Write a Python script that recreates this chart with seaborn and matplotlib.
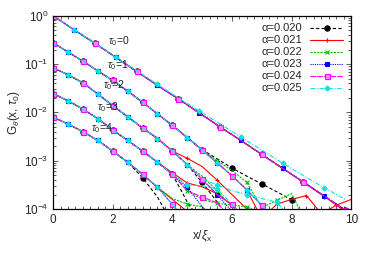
import matplotlib
matplotlib.use('Agg')
import matplotlib.pyplot as plt
from matplotlib.lines import Line2D
from matplotlib.ticker import AutoMinorLocator, LogLocator, NullFormatter
import numpy as np
import pandas as pd
import seaborn as sns

# alpha values and styles (gnuplot-ish)
alphas = ['0.020', '0.021', '0.022', '0.023', '0.024', '0.025']
taus = [0, 1, 2, 3, 4]

# x / xi_x grids for each tau0 curve
x_t0 = [0.0, 0.7, 1.4, 2.1, 2.8, 3.5, 4.2, 4.9, 5.6, 6.3, 7.0, 7.7, 8.4, 9.1, 9.8]
x_t1 = [0.0, 0.5, 1.0, 1.5, 2.0, 2.5, 3.0, 3.5, 4.0, 4.5, 5.0,
        5.5, 6.0, 6.5, 7.0, 7.5, 8.0, 8.5, 9.0, 9.5, 10.0]
x_t2 = [0.0, 0.5, 1.0, 1.5, 2.0, 2.5, 3.0, 3.5, 4.0, 4.5, 5.0, 5.5, 6.0, 6.5, 7.0, 7.5, 8.0]
x_t3 = [0.0, 0.5, 1.0, 1.5, 2.0, 2.5, 3.0, 3.5, 4.0, 4.5, 5.0, 5.5, 6.0, 6.5, 7.0, 7.5]
x_t4 = [0.0, 0.5, 1.0, 1.5, 2.0, 2.5, 3.0, 3.5, 4.0, 4.5, 5.0, 5.5, 6.0]

# log10 G(x, tau0), common part of the collapsed curves
main0 = [0.00, -0.29, -0.57, -0.86, -1.15, -1.44, -1.72, -2.01, -2.30, -2.58, -2.87, -3.16, -3.44, -3.73, -4.02]
main1 = [-0.56, -0.75, -0.94, -1.14, -1.34, -1.56, -1.79, -2.03, -2.27, -2.52, -2.78, -3.04, -3.31, -3.60, -3.92, -4.25]
main2 = [-1.08, -1.22, -1.39, -1.62, -1.86, -2.09, -2.32, -2.54, -2.80, -3.08, -3.38, -3.70, -4.05, -4.40]
main3 = [-1.61, -1.76, -1.93, -2.13, -2.36, -2.58, -2.80, -3.03, -3.28, -3.55, -3.85, -4.20]
main4 = [-2.10, -2.24, -2.40, -2.58, -2.80, -3.03, -3.28, -3.55, -3.90, -4.30]

# alpha = 0.020
g020_t0 = main0
g020_t1 = main1[:10] + [-2.77, -2.96, -3.15, -3.32, -3.48, -3.64, -3.81]
g020_t2 = main2[:10] + [-3.45, -3.85, -4.30]
g020_t3 = main3[:9] + [-3.85, -4.30]
g020_t4 = main4[:6] + [-3.35, -3.75, -4.30]
# alpha = 0.021
g021_t0 = main0[:11] + [-3.15, -3.45, -3.74, -4.05]
g021_t1 = main1[:14] + [-4.20, -3.90, -3.80, -3.72, -4.10, -3.92, -3.80]
g021_t2 = main2[:9] + [-2.95, -3.12, -3.40, -3.70, -4.00, -4.30]
g021_t3 = main3[:8] + [-3.25, -3.46, -3.54, -3.68, -3.92, -4.20]
g021_t4 = main4[:8] + [-3.80, -4.05, -4.30]
# alpha = 0.022
g022_t0 = main0
g022_t1 = main1[:11] + [-3.00, -3.20, -3.45, -3.97, -3.82, -3.68, -4.30]
g022_t2 = main2[:10] + [-3.32, -3.62, -3.95, -4.30]
g022_t3 = main3[:9] + [-3.62, -3.80, -3.88, -3.92, -3.95, -4.10, -4.30]
g022_t4 = main4[:7] + [-3.55, -3.78, -3.90, -3.95, -4.30]
# alpha = 0.023
g023_t0 = main0
g023_t1 = main1
g023_t2 = main2
g023_t3 = main3[:10] + [-3.95, -4.30]
g023_t4 = main4
# alpha = 0.024
g024_t0 = main0
g024_t1 = main1
g024_t2 = main2[:12] + [-3.90, -4.30]
g024_t3 = main3[:9] + [-3.62, -3.75, -3.87, -4.20]
g024_t4 = main4
# alpha = 0.025
g025_t0 = [0.00, -0.29, -0.57, -0.86, -1.14, -1.42, -1.70, -1.97, -2.24, -2.51, -2.78, -3.05, -3.31, -3.56, -3.80]
g025_t1 = main1
g025_t2 = main2[:11] + [-3.50, -3.62, -3.70, -3.78, -3.86, -4.20]
g025_t3 = main3[:9] + [-3.50, -3.52, -3.58, -3.90, -4.25]
g025_t4 = main4

grids = [x_t0, x_t1, x_t2, x_t3, x_t4]
series = {
    '0.020': [g020_t0, g020_t1, g020_t2, g020_t3, g020_t4],
    '0.021': [g021_t0, g021_t1, g021_t2, g021_t3, g021_t4],
    '0.022': [g022_t0, g022_t1, g022_t2, g022_t3, g022_t4],
    '0.023': [g023_t0, g023_t1, g023_t2, g023_t3, g023_t4],
    '0.024': [g024_t0, g024_t1, g024_t2, g024_t3, g024_t4],
    '0.025': [g025_t0, g025_t1, g025_t2, g025_t3, g025_t4],
}

rows = []
for a in alphas:
    for t, (xs, lg) in enumerate(zip(grids, series[a])):
        for xv, lv in zip(xs, lg):
            rows.append({'alpha': a, 'tau': t, 'x': xv, 'G': 10 ** lv})
df = pd.DataFrame(rows)

styles = {
    '0.020': dict(color='black', linestyle=(0, (3, 2)), marker='o', ms=3.8, mfc='black', mec='black', me=(0, 2)),
    '0.021': dict(color='#ff0000', linestyle='-', marker='+', ms=3.5, mfc='#ff0000', mec='#ff0000', me=(1, 2)),
    '0.022': dict(color='#00c000', linestyle=(0, (2, 1)), marker='x', ms=3.0, mfc='#00c000', mec='#00c000', me=(1, 2)),
    '0.023': dict(color='#0000ff', linestyle=(0, (1, 1)), marker='s', ms=2.6, mfc='#0000ff', mec='#0000ff', me=(1, 2)),
    '0.024': dict(color='#ff00ff', linestyle=(0, (5, 1)), marker='s', ms=3.6, mfc='#ff88ff', mec='#ff00ff', me=(0, 2)),
    '0.025': dict(color='#00e5e5', linestyle=(0, (4, 1.5, 1, 1.5)), marker='D', ms=2.6, mfc='#00e5e5', mec='#00e5e5', me=(1, 2)),
}

sns.set_style('ticks')
plt.rcParams['font.family'] = ['Liberation Sans', 'DejaVu Sans']
plt.rcParams['mathtext.fontset'] = 'custom'
plt.rcParams['mathtext.rm'] = 'Liberation Sans'
plt.rcParams['mathtext.it'] = 'Liberation Sans:italic'

fig, ax = plt.subplots(figsize=(3.74, 2.62), dpi=100)
fig.subplots_adjust(left=0.142, right=0.939, top=0.94, bottom=0.202)

handles = []
for a in alphas:
    st = styles[a]
    for t in taus:
        sub = df[(df['alpha'] == a) & (df['tau'] == t)]
        sns.lineplot(data=sub, x='x', y='G', ax=ax, estimator=None, sort=False,
                     color=st['color'], linestyle=st['linestyle'], linewidth=0.8,
                     marker=st['marker'], markersize=st['ms'],
                     markerfacecolor=st['mfc'], markeredgecolor=st['mec'],
                     markeredgewidth=0.8, markevery=st['me'], clip_on=True)
    handles.append(Line2D([], [], color=st['color'], linestyle=st['linestyle'], linewidth=0.8,
                          marker=st['marker'], markersize=st['ms'], markerfacecolor=st['mfc'],
                          markeredgecolor=st['mec'], markeredgewidth=0.8,
                          label='α=' + a))

ax.set_yscale('log')
ax.set_xlim(0, 10)
ax.set_ylim(1e-4, 1)
ax.set_xticks([0, 2, 4, 6, 8, 10])
ax.xaxis.set_minor_locator(AutoMinorLocator(8))
ax.yaxis.set_major_locator(LogLocator(base=10, numticks=10))
ax.yaxis.set_minor_locator(LogLocator(base=10, subs=np.arange(2, 10), numticks=10))
ax.yaxis.set_minor_formatter(NullFormatter())
ax.tick_params(which='both', direction='in', top=True, right=True, labelsize=8.5,
               width=0.6, color='#444444')
ax.tick_params(which='major', length=3.5)
ax.tick_params(which='minor', length=2)
for sp in ax.spines.values():
    sp.set_linewidth(0.9)
    sp.set_color('black')

ax.set_xlabel(r'x/$\xi_\mathrm{x}$', fontsize=8.5, labelpad=2)
ax.set_ylabel(r'G$_\theta$(x, $\tau_0$)', fontsize=8.5, labelpad=1)

tau_labels = [(1.85, -0.52), (1.82, -1.02), (1.66, -1.44), (1.48, -1.90), (1.26, -2.33)]
for t, (tx, ty) in zip(taus, tau_labels):
    ax.text(tx, 10 ** ty, r'$\tau_0$=%d' % t, fontsize=7.5, va='center', ha='left', color='#222222')

ax.legend(handles=handles, loc='upper right', markerfirst=False, frameon=False,
          fontsize=8, handlelength=3.0, labelspacing=0.18, handletextpad=0.7,
          borderaxespad=0.3, numpoints=1)

fig.savefig('out.png', dpi=100)
